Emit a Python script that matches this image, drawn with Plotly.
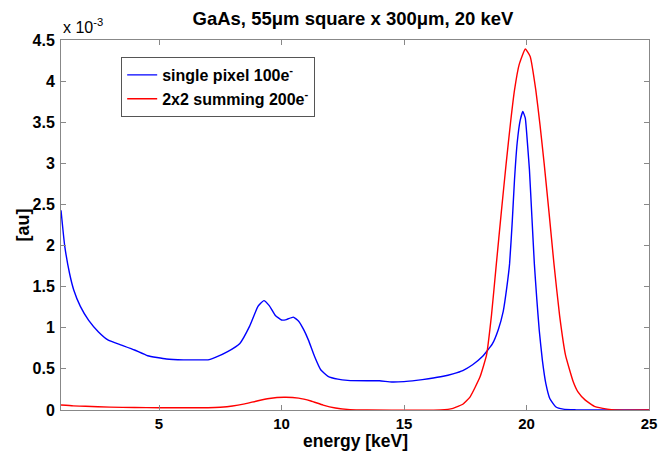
import plotly.graph_objects as go

# single pixel 100e- (values in units of 1e-3)
blue_x = [1.0, 1.15, 1.35, 1.52, 1.79, 2.13, 2.53, 2.93, 3.47, 4.0, 4.54, 5.3, 6.0, 6.6, 7.0, 7.3, 7.8, 8.3, 8.7, 9.04, 9.28, 9.5,
          9.75, 10.0, 10.2, 10.48, 10.7, 10.9, 11.1, 11.35, 11.6, 11.9, 12.3, 12.7, 13.5, 14.0, 14.5, 15.0, 15.5,
          16.0, 16.6, 17.0, 17.4, 17.8, 18.2, 18.6, 18.85, 19.05, 19.2, 19.31, 19.42, 19.51, 19.62, 19.74, 19.85,
          19.95, 20.05, 20.12, 20.22, 20.32, 20.42, 20.52, 20.65, 20.79, 20.95, 21.19, 21.5, 22.0, 25.0]
blue_y = [2.43, 2.0, 1.66, 1.46, 1.26, 1.09, 0.95, 0.85, 0.79, 0.73, 0.66, 0.62, 0.61, 0.61, 0.61, 0.64, 0.71, 0.81, 1.02, 1.26, 1.33, 1.27,
          1.15, 1.095, 1.10, 1.13, 1.08, 0.98, 0.85, 0.65, 0.49, 0.41, 0.375, 0.36, 0.355, 0.355, 0.34, 0.345, 0.36,
          0.38, 0.41, 0.44, 0.48, 0.55, 0.65, 0.80, 0.98, 1.2, 1.5, 1.78, 2.3, 2.8, 3.25, 3.52, 3.63,
          3.55, 3.2, 2.92, 2.35, 1.78, 1.35, 0.97, 0.6, 0.32, 0.14, 0.04, 0.01, 0.003, 0.0]

# 2x2 summing 200e- (values in units of 1e-3)
red_x = [1.0, 1.5, 2.0, 3.0, 4.0, 5.0, 6.0, 7.0, 7.5, 8.0, 8.5, 9.0, 9.5, 10.1, 10.7, 11.2, 11.7, 12.2, 12.8, 13.5,
         16.5, 17.0, 17.4, 17.7, 18.1, 18.37, 18.57, 18.77, 18.97, 19.17, 19.35, 19.51, 19.7, 19.95, 20.15, 20.38,
         20.55, 20.72, 20.92, 21.12, 21.35, 21.59, 21.9, 22.1, 22.4, 22.8, 23.3, 23.6, 25.0]
red_y = [0.06, 0.05, 0.045, 0.035, 0.03, 0.028, 0.027, 0.027, 0.033, 0.048, 0.075, 0.11, 0.14, 0.155, 0.145, 0.11, 0.06, 0.025, 0.005, 0.0,
         0.0, 0.02, 0.07, 0.16, 0.4, 0.67, 1.15, 1.78, 2.4, 3.0, 3.5, 3.89, 4.2, 4.39, 4.3, 3.89,
         3.47, 3.0, 2.4, 1.78, 1.15, 0.67, 0.35, 0.22, 0.12, 0.04, 0.01, 0.0, 0.0]

x_ticks = [5, 10, 15, 20, 25]
y_ticks = [0, 0.5, 1, 1.5, 2, 2.5, 3, 3.5, 4, 4.5]
y_tick_labels = ["0", "0.5", "1", "1.5", "2", "2.5", "3", "3.5", "4", "4.5"]

FONT = "Liberation Sans, Arial, sans-serif"

# the page body has an 8px margin, so the figure is sized to fit the window
W, H = 661, 443
L, R, T, B = 53, 12, 32, 41
PW, PH = W - L - R, H - T - B

fig = go.Figure()
fig.add_trace(go.Scatter(x=blue_x, y=[v * 1e-3 for v in blue_y], mode="lines",
                         line=dict(color="#0000ff", width=1.4, shape="spline", smoothing=0.4),
                         name="single pixel 100e<sup>-</sup>"))
fig.add_trace(go.Scatter(x=red_x, y=[v * 1e-3 for v in red_y], mode="lines",
                         line=dict(color="#ff0000", width=1.4, shape="spline", smoothing=0.4),
                         name="2x2 summing 200e<sup>-</sup>"))

axis_common = dict(showline=True, linecolor="#888888", linewidth=1, mirror="ticks",
                   ticks="inside", ticklen=5, tickcolor="#888888", showgrid=False, zeroline=False)

fig.update_layout(
    width=W, height=H,
    margin=dict(l=L, r=R, t=T, b=B),
    paper_bgcolor="white", plot_bgcolor="white",
    title=dict(text="<b>GaAs, 55μm square x 300μm, 20 keV</b>", x=345 / W, xanchor="center",
               y=1 - 11 / H, yanchor="middle", font=dict(family=FONT, size=18.5, color="black")),
    xaxis=dict(range=[1, 25], tickvals=x_ticks, ticklabelstandoff=0,
               tickfont=dict(family=FONT, size=15, color="black", weight="bold"), **axis_common),
    yaxis=dict(range=[0, 4.5e-3], tickvals=[v * 1e-3 for v in y_ticks], ticktext=y_tick_labels,
               ticklabelstandoff=2, tickfont=dict(family=FONT, size=16, color="black", weight="bold"),
               **axis_common),
    legend=dict(x=(122 - 8 - L) / PW, y=(410 - 57) / 370, xanchor="left", yanchor="top",
                bgcolor="white", bordercolor="#555555", borderwidth=1,
                font=dict(family=FONT, size=16, color="black", weight="bold"),
                itemwidth=30, tracegroupgap=0),
    showlegend=True,
)

# axis titles
fig.add_annotation(text="<b>energy [keV]</b>", xref="paper", yref="paper", x=0.5, y=-(433 - (H - B)) / PH,
                   xanchor="center", yanchor="middle", showarrow=False,
                   font=dict(family=FONT, size=17.5, color="black"))
fig.add_annotation(text="<b>[au]</b>", xref="paper", yref="paper", x=-(L - 14) / PW, y=0.5, textangle=-90,
                   xanchor="center", yanchor="middle", showarrow=False,
                   font=dict(family=FONT, size=18, color="black"))
# exponent label
fig.add_annotation(text="x 10<sup>-3</sup>", xref="paper", yref="paper", x=0, y=1, xanchor="left",
                   yanchor="bottom", showarrow=False, yshift=2,
                   font=dict(family=FONT, size=16, color="black"))

fig.write_html("out.html")
